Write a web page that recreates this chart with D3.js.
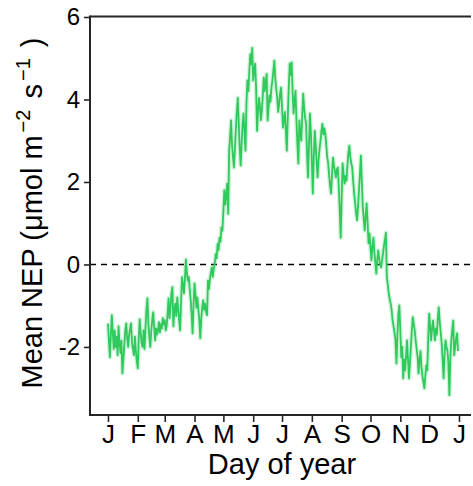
<!DOCTYPE html>
<html>
<head>
<meta charset="utf-8">
<script src="https://cdn.jsdelivr.net/npm/d3@7"></script>
<style>
  html, body { margin: 0; padding: 0; background: #fff; }
  svg { display: block; font-family: "Liberation Sans", Arial, sans-serif; }
</style>
</head>
<body>
<svg id="chart" width="473" height="486"></svg>
<script>
// Daily mean net ecosystem production (µmol m-2 s-1), one array per month
const jan = [-1.43,-1.85,-2.25,-1.70,-1.23,-1.65,-2.05,-1.60,-2.00,-1.75,-2.20,-1.50,-1.90,-2.15,-1.85,-2.64,
             -2.30,-1.95,-1.60,-1.43,-1.80,-2.00,-1.70,-1.55,-1.43,-1.90,-2.05,-2.20,-1.75,-2.10,-2.35];
const feb = [-2.52,-1.80,-1.33,-1.65,-1.90,-2.00,-1.60,-2.05,-1.55,-1.10,-0.82,-1.45,-1.75,-2.00,
             -1.60,-1.35,-1.16,-1.50,-1.84,-1.55,-1.70,-1.60,-1.40,-1.65,-1.45,-1.55,-1.30,-1.45];
const mar = [-1.35,-1.60,-1.50,-1.20,-0.82,-1.30,-1.05,-0.70,-0.55,-1.50,-1.10,-0.95,-1.25,-0.80,-1.05,-1.35,
             -1.60,-0.90,-0.31,-0.50,-0.70,-0.35,0.12,-0.20,-0.39,-0.30,-0.60,-0.85,-1.20,-1.67,-0.95];
const apr = [-0.46,-0.75,-1.05,-0.80,-1.10,-1.35,-1.79,-1.30,-1.05,-0.87,-1.10,-0.95,-1.15,-1.23,-0.39,
             -0.60,-0.35,-0.20,-0.07,-0.30,-0.10,0.02,0.25,0.15,0.50,0.35,0.65,0.55,0.90,0.82];
const may = [1.30,1.80,1.45,1.70,1.96,1.23,2.76,3.10,3.49,2.90,2.60,2.35,2.80,3.30,3.70,4.04,
             3.40,2.80,2.40,2.95,3.40,3.66,3.20,2.76,3.90,4.46,4.20,4.70,5.10,4.85,5.25];
const jun = [4.46,4.70,4.87,4.30,3.24,3.70,4.04,3.85,3.50,3.73,4.10,4.53,4.20,4.40,4.62,
             3.49,3.80,4.10,3.95,4.30,4.46,4.70,4.94,4.50,4.25,4.04,3.70,3.90,4.15,4.29];
const jul = [3.80,3.32,3.55,3.70,3.20,2.76,3.60,4.30,4.87,4.60,4.90,4.20,3.66,3.95,4.21,3.50,
             2.90,2.45,3.49,3.20,3.00,3.60,4.14,3.80,3.55,3.41,2.70,2.11,2.90,3.66,3.20];
const aug = [2.50,1.72,2.60,3.24,2.90,2.45,2.11,2.55,2.80,3.00,3.25,3.41,3.15,3.30,3.17,2.90,
             2.60,2.45,2.15,1.90,1.72,2.20,2.59,2.40,2.25,2.11,2.30,2.35,1.90,1.30,0.65];
const sep = [1.60,2.45,2.20,1.96,2.15,2.03,2.40,2.70,2.88,2.60,2.45,2.35,2.00,1.72,1.50,
             1.25,1.07,1.40,1.79,2.20,2.64,2.00,1.38,1.10,0.82,1.20,1.48,1.00,0.51,0.75];
const oct = [0.40,0.10,0.45,0.65,0.30,0.05,-0.22,0.10,0.34,0.15,0.00,-0.07,0.10,0.27,0.45,0.60,
             0.77,-0.31,-0.50,-0.70,-0.85,-0.95,-1.11,-1.36,-1.50,-1.65,-1.84,-2.40,-1.70,-1.20,-0.99];
const nov = [-1.60,-2.25,-2.00,-2.76,-2.30,-2.57,-2.20,-1.84,-2.30,-2.76,-2.40,-2.00,-1.60,-1.28,-1.45,
             -1.60,-1.85,-2.05,-2.25,-2.64,-2.30,-2.10,-2.50,-2.70,-2.85,-3.00,-2.70,-2.45,-2.57,-1.80];
const dec = [-1.19,-1.50,-1.84,-1.55,-1.36,-1.60,-1.84,-1.55,-1.70,-1.30,-1.04,-1.40,-1.65,-1.91,-2.30,-2.76,
             -2.20,-1.84,-2.00,-2.08,-2.40,-3.17,-2.30,-1.84,-1.60,-1.36,-2.20,-2.00,-1.80,-1.67,-2.10];

// Axis ticks: first day of each month and its initial
const monthStarts = [1, 32, 60, 91, 121, 152, 182, 213, 244, 274, 305, 335, 366];
const monthLabels = ["J", "F", "M", "A", "M", "J", "J", "A", "S", "O", "N", "D", "J"];
const yTicks = [-2, 0, 2, 4, 6];

const nep = [].concat(jan, feb, mar, apr, may, jun, jul, aug, sep, oct, nov, dec);
const series = nep.map((v, i) => ({ day: i + 1, value: v }));

const svg = d3.select("#chart");
const plotL = 90, plotR = 471, plotT = 17, plotB = 415;

const x = d3.scaleLinear().domain([-17.7, 378.5]).range([plotL, plotR]);
const y = d3.scaleLinear().domain([-3.65, 6]).range([plotB, plotT]);

const axisColor = "#262626";

// Zero reference line
svg.append("line")
  .attr("x1", plotL).attr("x2", plotR)
  .attr("y1", y(0)).attr("y2", y(0))
  .attr("stroke", "#000").attr("stroke-width", 1.6)
  .attr("stroke-dasharray", "6,5");

// NEP series with a faint band under the line
const line = d3.line().x(d => x(d.day)).y(d => y(d.value));
svg.append("path").datum(series)
  .attr("d", line).attr("fill", "none")
  .attr("stroke", "#2fc95c").attr("stroke-opacity", 0.22)
  .attr("stroke-width", 4.5).attr("stroke-linejoin", "round");
svg.append("path").datum(series)
  .attr("d", line).attr("fill", "none")
  .attr("stroke", "#2fc95c").attr("stroke-width", 1.8)
  .attr("stroke-linejoin", "round");

// Top border
svg.append("line")
  .attr("x1", plotL).attr("x2", plotR)
  .attr("y1", plotT - 0.5).attr("y2", plotT - 0.5)
  .attr("stroke", axisColor).attr("stroke-width", 2);

// Y axis
const yAxis = svg.append("g")
  .attr("transform", `translate(${plotL},0)`)
  .call(d3.axisLeft(y).tickValues(yTicks).tickSize(6).tickPadding(4).tickFormat(d3.format("d")));
yAxis.select(".domain").attr("d", `M0,${plotT - 1.5}V${plotB + 1}`)
  .attr("stroke", axisColor).attr("stroke-width", 2);
yAxis.selectAll(".tick line").attr("stroke", axisColor).attr("stroke-width", 1.6);
yAxis.selectAll(".tick text")
  .attr("font-size", 24).attr("fill", "#000")
  .attr("font-family", "Liberation Sans, Arial, sans-serif")
  .text(d => d < 0 ? "-" + Math.abs(d) : d);

// X axis
const xAxis = svg.append("g")
  .attr("transform", `translate(0,${plotB})`)
  .call(d3.axisBottom(x).tickValues(monthStarts).tickSize(7).tickPadding(3)
    .tickFormat((d, i) => monthLabels[i]));
xAxis.select(".domain").attr("d", `M${plotL - 1},0H${plotR}`)
  .attr("stroke", axisColor).attr("stroke-width", 2);
xAxis.selectAll(".tick line").attr("stroke", axisColor).attr("stroke-width", 1.6);
xAxis.selectAll(".tick text")
  .attr("font-size", 26).attr("fill", "#000")
  .attr("font-family", "Liberation Sans, Arial, sans-serif");

// Axis titles
svg.append("text")
  .attr("x", 282).attr("y", 474)
  .attr("text-anchor", "middle")
  .attr("font-size", 29).attr("fill", "#000")
  .text("Day of year");

const yTitle = svg.append("text")
  .attr("transform", `translate(42,213) rotate(-90)`)
  .attr("text-anchor", "middle")
  .attr("font-size", 29).attr("fill", "#000");
yTitle.append("tspan").text("Mean NEP (\u03bcmol m");
yTitle.append("tspan").attr("dx", 3).attr("dy", -12).attr("font-size", 20).text("\u22122");
yTitle.append("tspan").attr("dx", 3).attr("dy", 12).text(" s");
yTitle.append("tspan").attr("dx", 3).attr("dy", -12).attr("font-size", 20).text("\u22121");
yTitle.append("tspan").attr("dx", 3).attr("dy", 12).text(" )");
</script>
</body>
</html>
